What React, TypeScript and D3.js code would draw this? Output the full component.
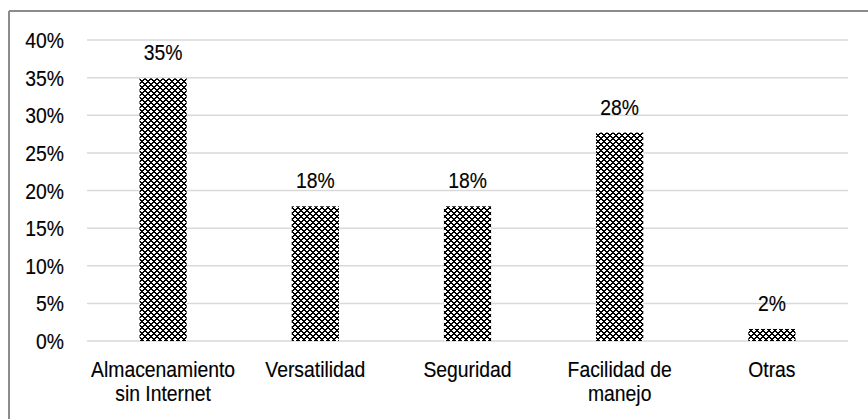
import React from "react";
import * as d3 from "d3";

const categories: string[][] = [
  ["Almacenamiento", "sin Internet"],
  ["Versatilidad"],
  ["Seguridad"],
  ["Facilidad de", "manejo"],
  ["Otras"],
];
const values: number[] = [34.9, 17.9, 17.9, 27.7, 1.6];
const valueLabels: string[] = ["35%", "18%", "18%", "28%", "2%"];
const yTicks: number[] = [0, 5, 10, 15, 20, 25, 30, 35, 40];

const W = 868;
const H = 419;
const FONT = "'Liberation Sans', Arial, sans-serif";
const FS = 21.5;
const SX = 0.9;

function T(props: { x: number; y: number; anchor: "start" | "middle" | "end"; children: React.ReactNode }) {
  return (
    <text
      transform={`translate(${props.x},${props.y}) scale(${SX},1)`}
      textAnchor={props.anchor}
      fontFamily={FONT}
      fontSize={FS}
      fill="#000"
      stroke="#000"
      strokeWidth={0.15}
    >
      {props.children}
    </text>
  );
}

export default function App() {
  const left = 87;
  const right = 848;
  const top = 40;
  const bottom = 341;

  const x = d3
    .scaleBand<number>()
    .domain(d3.range(values.length))
    .range([left, right])
    .paddingInner(0.69)
    .paddingOuter(0.345);
  const y = d3.scaleLinear().domain([0, 40]).range([bottom, top]);

  const tile = 6;
  const cells: { x: number; y: number }[] = [];
  for (let i = 0; i < tile; i++) {
    for (let j = 0; j < tile; j++) {
      const a = (i + j) % tile;
      const b = (((i - j) % tile) + tile) % tile;
      if (a === 0 || a === 1 || b === 0 || b === 1) cells.push({ x: i, y: j });
    }
  }

  return (
    <svg
      width={W}
      height={H}
      style={{ position: "absolute", left: 0, top: 0, background: "#fff" }}
    >
      <defs>
        <pattern id="chk" width={tile} height={tile} patternUnits="userSpaceOnUse">
          <rect width={tile} height={tile} fill="#fff" />
          {cells.map((c, k) => (
            <rect key={k} x={c.x} y={c.y} width={1} height={1} fill="#000" shapeRendering="crispEdges" />
          ))}
        </pattern>
      </defs>
      <rect x={0} y={0} width={W} height={H} fill="#fff" />
      <line x1={9} y1={11} x2={W} y2={11} stroke="#8c8c8c" strokeWidth={2} />
      <line x1={9} y1={11} x2={9} y2={H} stroke="#8c8c8c" strokeWidth={2} />

      {yTicks.map((t) => (
        <g key={t}>
          <line x1={left} x2={right} y1={y(t)} y2={y(t)} stroke="#d9d9d9" strokeWidth={1.5} />
          <T x={64} y={y(t) + 8} anchor="end">
            {t}%
          </T>
        </g>
      ))}

      {values.map((v, i) => {
        const bx = x(i)!;
        const bw = x.bandwidth();
        return (
          <g key={i}>
            <rect x={bx} y={y(v)} width={bw} height={y(0) - y(v)} fill="url(#chk)" />
            <T x={bx + bw / 2} y={y(v) - 18} anchor="middle">
              {valueLabels[i]}
            </T>
            {categories[i].map((line, li) => (
              <T key={li} x={bx + bw / 2} y={377 + li * 24} anchor="middle">
                {line}
              </T>
            ))}
          </g>
        );
      })}
    </svg>
  );
}
